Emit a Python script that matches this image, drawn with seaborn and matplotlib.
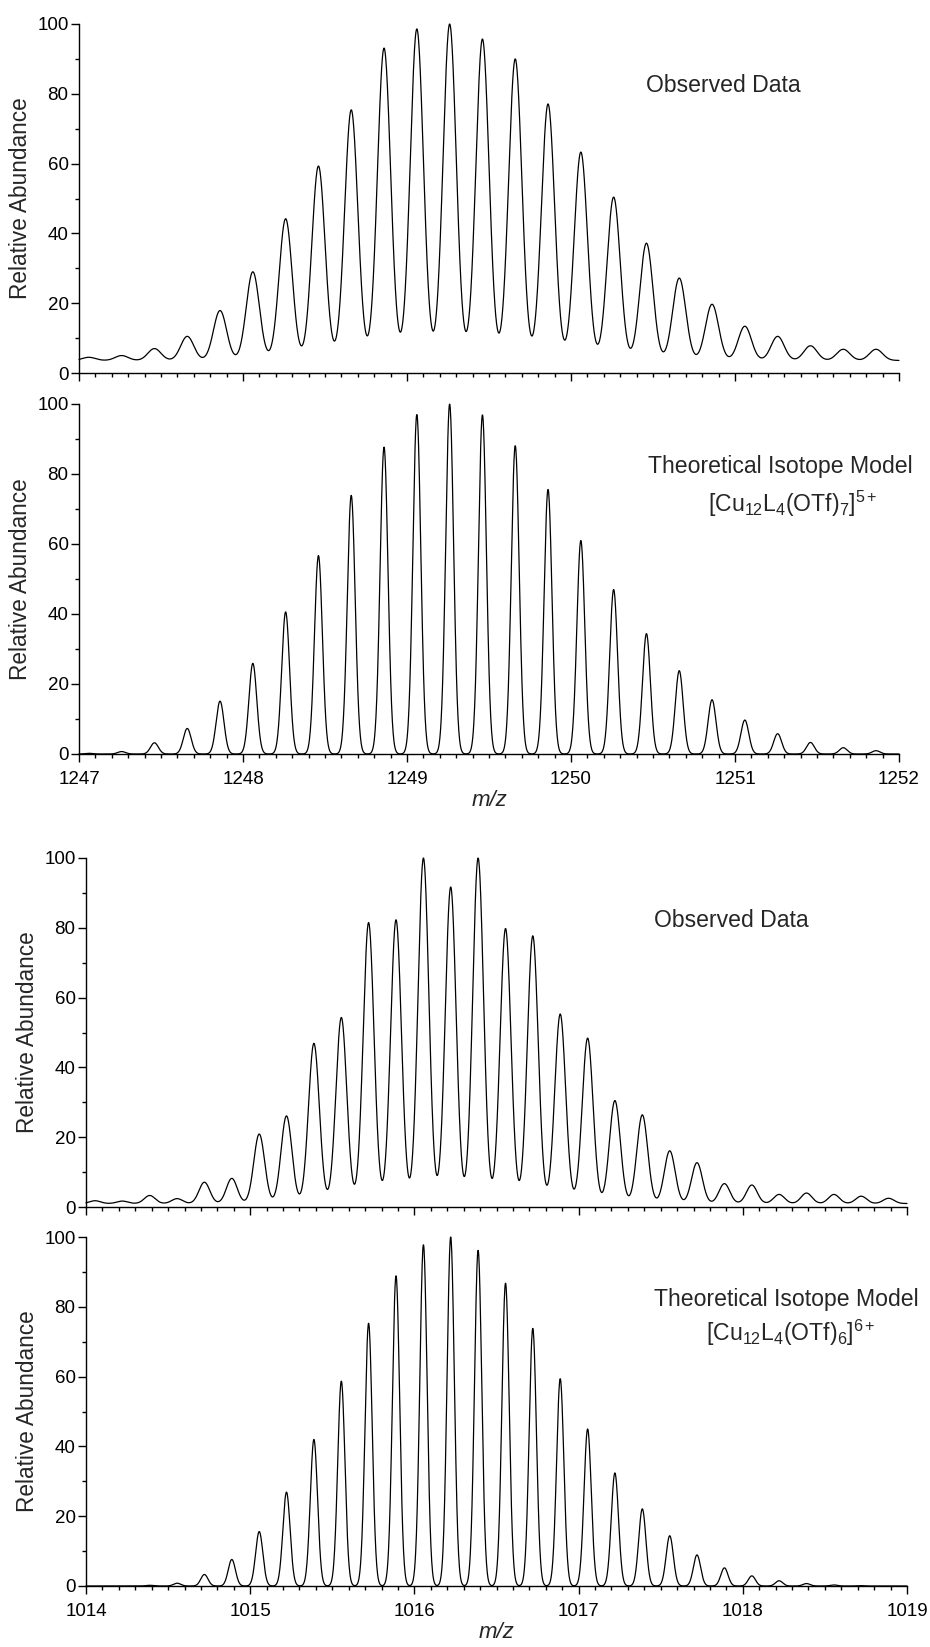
import numpy as np
import pandas as pd
import matplotlib
matplotlib.use("Agg")
import matplotlib.pyplot as plt
import seaborn as sns

# ---------------- data ----------------
# 5+ ion, m/z 1247-1252
mz_5 = [1247.06, 1247.26, 1247.46, 1247.66, 1247.86, 1248.06, 1248.26, 1248.46,
        1248.66, 1248.86, 1249.06, 1249.26, 1249.46, 1249.66, 1249.86, 1250.06,
        1250.26, 1250.46, 1250.66, 1250.86, 1251.06, 1251.26, 1251.46, 1251.66,
        1251.86]
obs_5 = [4.5, 5.0, 7.0, 10.5, 17.9, 29.0, 44.2, 59.3, 75.4, 93.1, 98.6, 100.0,
         95.7, 90.0, 77.1, 63.3, 50.4, 37.2, 27.2, 19.7, 13.4, 10.5, 7.8, 6.8, 6.8]
obs_5_baseline = 3.6
theo_5 = [0.2, 0.7, 3.2, 7.3, 15.1, 25.9, 40.6, 56.7, 73.9, 87.7, 97.0, 100.0,
          96.9, 88.1, 75.6, 61.0, 47.0, 34.4, 23.8, 15.5, 9.7, 5.8, 3.3, 1.8, 0.95]

# 6+ ion, m/z 1014-1019
mz_6 = [1014.055, 1014.221, 1014.388, 1014.555, 1014.721, 1014.888, 1015.055,
        1015.221, 1015.388, 1015.555, 1015.721, 1015.888, 1016.055, 1016.221,
        1016.388, 1016.555, 1016.721, 1016.888, 1017.055, 1017.221, 1017.388,
        1017.555, 1017.721, 1017.888, 1018.055, 1018.221, 1018.388, 1018.555,
        1018.721, 1018.888]
obs_6 = [1.8, 1.7, 3.3, 2.4, 7.1, 8.2, 20.9, 26.1, 46.9, 54.3, 81.5, 82.3, 100.0,
         91.7, 100.0, 79.8, 77.7, 55.3, 48.4, 30.5, 26.4, 16.1, 12.7, 6.7, 6.3,
         3.6, 4.0, 3.6, 3.1, 2.5]
obs_6_baseline = 1.0
theo_6 = [0.0, 0.0, 0.2, 0.8, 3.3, 7.6, 15.6, 26.9, 42.0, 58.7, 75.3, 88.9, 97.8,
          100.0, 96.2, 86.8, 73.8, 59.4, 45.0, 32.4, 22.1, 14.4, 8.9, 5.2, 2.9,
          1.5, 0.7, 0.3, 0.1, 0.05]

xlim_5 = (1247, 1252)
xlim_6 = (1014, 1019)
x_ticks_5 = [1247, 1248, 1249, 1250, 1251, 1252]
x_ticks_6 = [1014, 1015, 1016, 1017, 1018, 1019]
y_ticks = [0, 20, 40, 60, 80, 100]

label_obs = "Observed Data"
label_theo = "Theoretical Isotope Model"
formula_5 = r"[Cu$_{12}$L$_4$(OTf)$_7$]$^{5+}$"
formula_6 = r"[Cu$_{12}$L$_4$(OTf)$_6$]$^{6+}$"


def profile(centers, apex, baseline, sigma, lim):
    """Render a profile spectrum from the read peak list."""
    x = np.linspace(lim[0], lim[1], 3000)
    y = np.full_like(x, baseline)
    for c, a in zip(centers, apex):
        h = max(a - baseline, 0.0)
        y += h * np.exp(-0.5 * ((x - c) / sigma) ** 2)
    return pd.DataFrame({"mz": x, "abundance": y})


# ---------------- style ----------------
sns.set_style("ticks")
plt.rcParams["font.family"] = ["Liberation Sans", "DejaVu Sans"]
plt.rcParams["mathtext.fontset"] = "custom"
plt.rcParams["mathtext.rm"] = "Liberation Sans"
plt.rcParams["mathtext.it"] = "Liberation Sans:italic"
plt.rcParams["mathtext.bf"] = "Liberation Sans:bold"

W, H = 930, 1647
fig = plt.figure(figsize=(W / 100, H / 100), dpi=100)


def add_axes(left_px, right_px, top_px, bottom_px):
    return fig.add_axes([left_px / W, 1 - bottom_px / H,
                         (right_px - left_px) / W, (bottom_px - top_px) / H])


ax1 = add_axes(79, 899, 24, 373)
ax2 = add_axes(79, 899, 404, 754)
ax3 = add_axes(86, 907, 858, 1207)
ax4 = add_axes(86, 907, 1237, 1586)

panels = [
    (ax1, profile(mz_5, obs_5, obs_5_baseline, 0.040, xlim_5), xlim_5, x_ticks_5, False),
    (ax2, profile(mz_5, theo_5, 0.0, 0.024, xlim_5), xlim_5, x_ticks_5, True),
    (ax3, profile(mz_6, obs_6, obs_6_baseline, 0.033, xlim_6), xlim_6, x_ticks_6, False),
    (ax4, profile(mz_6, theo_6, 0.0, 0.022, xlim_6), xlim_6, x_ticks_6, True),
]

for ax, df, lim, xt, show_x in panels:
    sns.lineplot(data=df, x="mz", y="abundance", ax=ax, color="black",
                 linewidth=0.9, clip_on=False)
    ax.set_xlim(*lim)
    ax.set_ylim(0, 100)
    ax.set_yticks(y_ticks)
    ax.set_yticks(np.arange(10, 100, 20), minor=True)
    ax.set_xticks(xt)
    ax.set_xticks(np.arange(lim[0], lim[1] + 0.001, 0.1), minor=True)
    for s in ["top", "right"]:
        ax.spines[s].set_visible(False)
    for s in ["left", "bottom"]:
        ax.spines[s].set_linewidth(1.0)
        ax.spines[s].set_color("black")
    ax.tick_params(axis="both", which="major", direction="out", length=6,
                   width=1.0, color="black", labelsize=13.5, labelcolor="black")
    ax.tick_params(axis="both", which="minor", direction="out", length=3,
                   width=1.0, color="black")
    ax.tick_params(axis="y", which="major", pad=1.5)
    ax.tick_params(axis="x", which="major", pad=6)
    ax.set_ylabel("Relative Abundance", fontsize=16.3, labelpad=4)
    if show_x:
        ax.set_xlabel("m/z", fontsize=16, style="italic", labelpad=2)
        ax.set_xticklabels([str(t) for t in xt])
    else:
        ax.set_xlabel("")
        ax.set_xticklabels([])
    ax.patch.set_alpha(0)

ax1.text(0.691, 0.825, label_obs, transform=ax1.transAxes, fontsize=16.6,
         ha="left", va="center")
ax3.text(0.692, 0.822, label_obs, transform=ax3.transAxes, fontsize=16.6,
         ha="left", va="center")
ax2.text(0.694, 0.82, label_theo, transform=ax2.transAxes, fontsize=16.6,
         ha="left", va="center")
ax2.text(0.767, 0.715, formula_5, transform=ax2.transAxes, fontsize=16.6,
         ha="left", va="center")
ax4.text(0.692, 0.82, label_theo, transform=ax4.transAxes, fontsize=16.6,
         ha="left", va="center")
ax4.text(0.755, 0.725, formula_6, transform=ax4.transAxes, fontsize=16.6,
         ha="left", va="center")

fig.savefig("out.png", dpi=100)
